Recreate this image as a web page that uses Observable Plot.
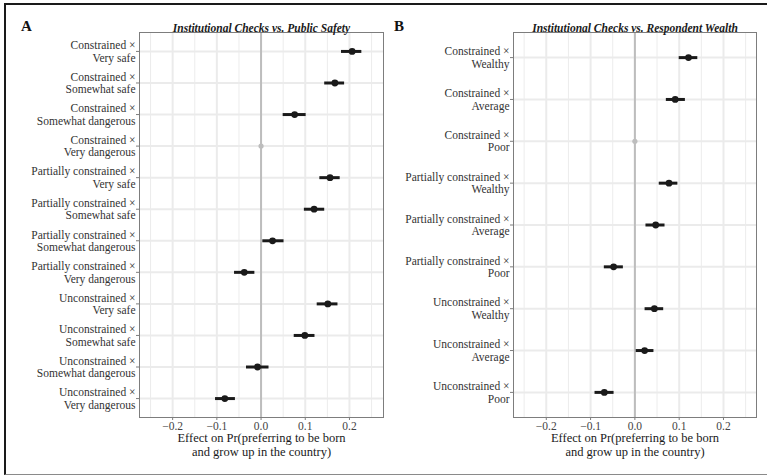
<!DOCTYPE html>
<html>
<head>
<meta charset="utf-8">
<script src="https://cdn.jsdelivr.net/npm/d3@7"></script>
<script src="https://cdn.jsdelivr.net/npm/@observablehq/plot@0.6"></script>
<style>
  html, body { margin: 0; padding: 0; background: #fff; }
  #wrap { position: relative; width: 767px; height: 475px; overflow: hidden; font-family: "Liberation Serif", serif; }
  #border { position: absolute; left: 4px; top: 3px; width: 780px; height: 472px;
            border-top: 2px solid #1a1a1a; border-left: 2px solid #1a1a1a; border-bottom: 1.5px solid #8a8a8a; box-sizing: border-box; }
  .panel { position: absolute; top: 0; }
  .panel svg text { font-family: "Liberation Serif", serif; }
  .tag { position: absolute; font-weight: bold; font-size: 15px; color: #111; line-height: 1; }
</style>
</head>
<body>
<div id="wrap">
  <div id="border"></div>
  <div class="tag" style="left:21px; top:19px;">A</div>
  <div class="tag" style="left:394px; top:19px;">B</div>
  <div id="pA" class="panel" style="left:0px;"></div>
  <div id="pB" class="panel" style="left:385px;"></div>
</div>
<script>
// ---- Data ----
const labelsA = [
  "Constrained ×\nVery safe",
  "Constrained ×\nSomewhat safe",
  "Constrained ×\nSomewhat dangerous",
  "Constrained ×\nVery dangerous",
  "Partially constrained ×\nVery safe",
  "Partially constrained ×\nSomewhat safe",
  "Partially constrained ×\nSomewhat dangerous",
  "Partially constrained ×\nVery dangerous",
  "Unconstrained ×\nVery safe",
  "Unconstrained ×\nSomewhat safe",
  "Unconstrained ×\nSomewhat dangerous",
  "Unconstrained ×\nVery dangerous"
];
const estA = [0.206, 0.167, 0.076, 0, 0.156, 0.120, 0.026, -0.038, 0.151, 0.099, -0.008, -0.082];
const loA  = [0.182, 0.144, 0.050, null, 0.133, 0.098, 0.004, -0.060, 0.127, 0.075, -0.033, -0.103];
const hiA  = [0.228, 0.189, 0.102, null, 0.179, 0.144, 0.052, -0.014, 0.174, 0.122, 0.018, -0.058];
const refA = [false, false, false, true, false, false, false, false, false, false, false, false];

const labelsB = [
  "Constrained ×\nWealthy",
  "Constrained ×\nAverage",
  "Constrained ×\nPoor",
  "Partially constrained ×\nWealthy",
  "Partially constrained ×\nAverage",
  "Partially constrained ×\nPoor",
  "Unconstrained ×\nWealthy",
  "Unconstrained ×\nAverage",
  "Unconstrained ×\nPoor"
];
const estB = [0.121, 0.091, 0, 0.077, 0.047, -0.048, 0.044, 0.022, -0.069];
const loB  = [0.100, 0.071, null, 0.055, 0.025, -0.069, 0.023, 0.003, -0.090];
const hiB  = [0.142, 0.114, null, 0.097, 0.068, -0.026, 0.065, 0.043, -0.047];
const refB = [false, false, true, false, false, false, false, false, false];

const xTicks = [-0.2, -0.1, 0, 0.1, 0.2];
const xMinor = [-0.25, -0.15, -0.05, 0.05, 0.15, 0.25];
const titleA = "Institutional Checks vs. Public Safety";
const titleB = "Institutional Checks vs. Respondent Wealth";
const xTitle = "Effect on Pr(preferring to be born\nand grow up in the country)";

const FONT = '"Liberation Serif", serif';

function panel({labels, est, lo, hi, ref, title, width, mLeft, mRight, xDomain}) {
  const rows = labels.map((label, i) => ({label, est: est[i], lo: lo[i], hi: hi[i], ref: ref[i]}));
  const main = rows.filter(d => !d.ref);
  const base = rows.filter(d => d.ref);
  return Plot.plot({
    width, height: 475,
    marginLeft: mLeft, marginRight: mRight, marginTop: 32, marginBottom: 58,
    style: {fontFamily: FONT, fontSize: "11.5px", color: "#333", background: "transparent"},
    x: {domain: xDomain},
    y: {type: "point", domain: labels, padding: 0.6, round: false},
    marks: [
      Plot.ruleX(xMinor, {stroke: "#ececec", strokeWidth: 1}),
      Plot.ruleX(xTicks, {stroke: "#ebebeb", strokeWidth: 2}),
      Plot.ruleY(labels, {stroke: "#ebebeb", strokeWidth: 2}),
      Plot.ruleX([0], {stroke: "#bdbdbd", strokeWidth: 2}),
      Plot.frame({stroke: "#7d7d7d", strokeWidth: 1}),
      Plot.axisX({ticks: xTicks, tickFormat: d3.format(".1f"), tickSize: 3, tickPadding: 1, stroke: "#7d7d7d", fill: "#444", fontSize: 11.5, fontFamily: FONT, label: null}),
      Plot.axisY({tickSize: 3, tickPadding: 1, stroke: "#7d7d7d", fill: "#333", fontSize: 11.5, fontFamily: FONT, lineHeight: 1.08, label: null}),
      Plot.ruleY(main, {y: "label", x1: "lo", x2: "hi", stroke: "#1a1a1a", strokeWidth: 3}),
      Plot.dot(main, {y: "label", x: "est", r: 3.4, fill: "#1a1a1a", stroke: null}),
      Plot.dot(base, {y: "label", x: "est", r: 2.6, fill: "#bdbdbd", stroke: null}),
      Plot.text([title], {frameAnchor: "top", lineAnchor: "bottom", dy: -1, text: d => d, fontWeight: "bold", fontStyle: "italic", fontSize: 11.5, fontFamily: FONT, fill: "#1a1a1a"}),
      Plot.text([xTitle], {frameAnchor: "bottom", lineAnchor: "top", dy: 15, text: d => d, fontSize: 12.5, fontFamily: FONT, fill: "#1a1a1a", lineHeight: 1.12})
    ]
  });
}

document.getElementById("pA").appendChild(panel({
  labels: labelsA, est: estA, lo: loA, hi: hiA, ref: refA, title: titleA,
  width: 385, mLeft: 139, mRight: 2, xDomain: [-0.275, 0.277]
}));
document.getElementById("pB").appendChild(panel({
  labels: labelsB, est: estB, lo: loB, hi: hiB, ref: refB, title: titleB,
  width: 382, mLeft: 128, mRight: 11, xDomain: [-0.274, 0.2745]
}));
</script>
</body>
</html>
